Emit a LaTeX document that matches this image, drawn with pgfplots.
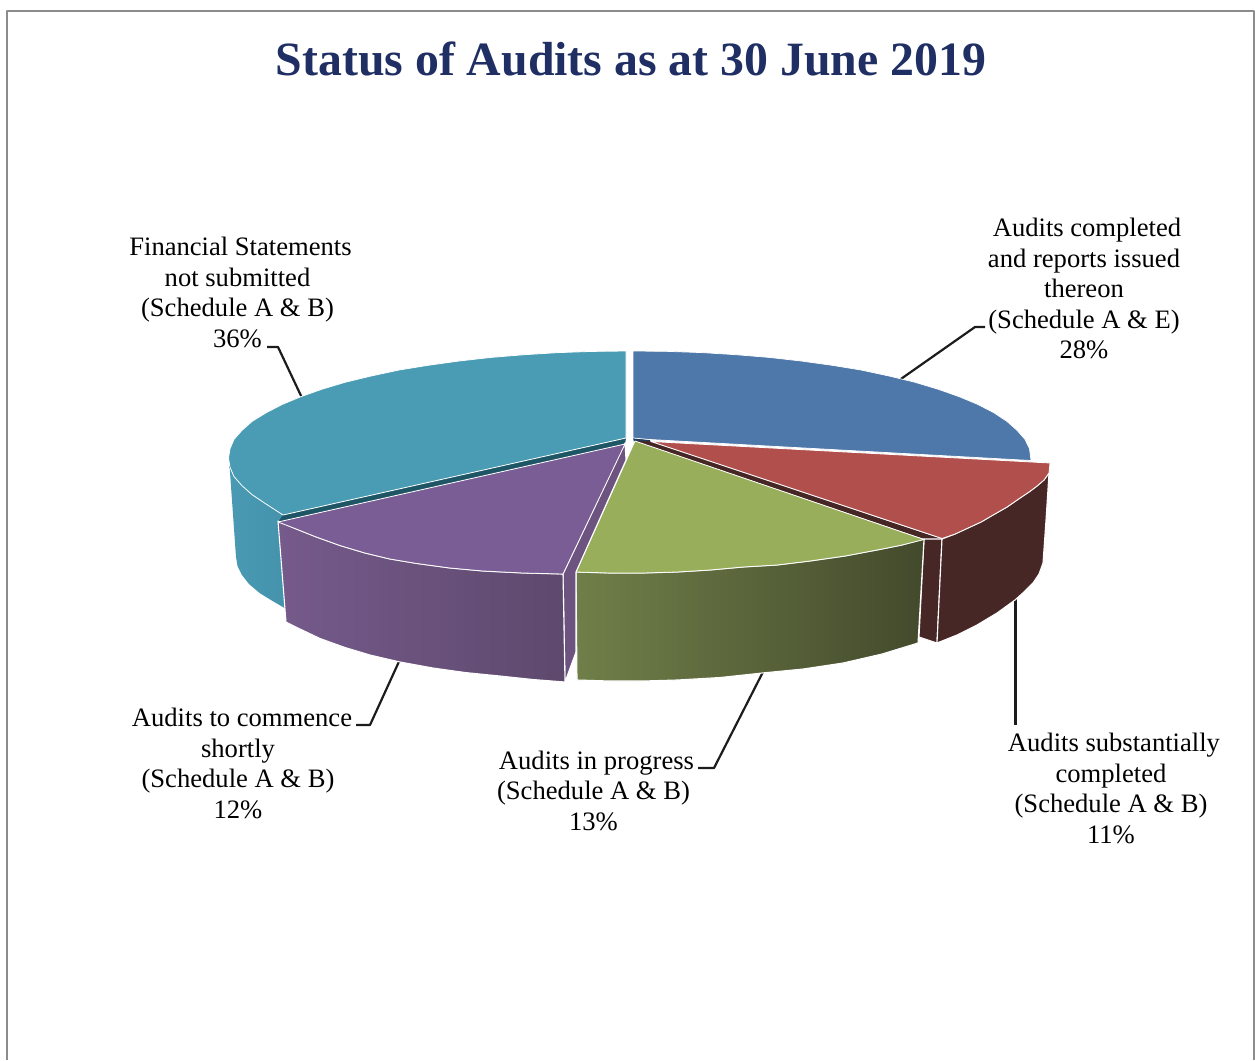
\documentclass[border=0pt]{standalone}
\usepackage{pgfplots}
\pgfplotsset{compat=1.18}
\usepackage{fontspec}
\setmainfont{Liberation Serif}
\definecolor{titleblue}{HTML}{1F2F63}
\definecolor{frame}{HTML}{8C8C8C}
\definecolor{leader}{HTML}{1C1C1C}
\definecolor{tealtop}{HTML}{4A9CB5}
\definecolor{tealwallL}{HTML}{4A9AB3}
\definecolor{tealwallR}{HTML}{4492AB}
\definecolor{tealdark}{HTML}{1F5666}
\definecolor{bluetop}{HTML}{4E77AA}
\definecolor{bluedark}{HTML}{1F3A5F}
\definecolor{redtop}{HTML}{B14F4D}
\definecolor{redwall}{HTML}{472725}
\definecolor{greentop}{HTML}{98AE5B}
\definecolor{greenwallL}{HTML}{707F49}
\definecolor{greenwallR}{HTML}{434A2C}
\definecolor{purpletop}{HTML}{7A5D94}
\definecolor{purplewallL}{HTML}{755A8B}
\definecolor{purplewallR}{HTML}{5E496D}
\definecolor{purpleinner}{HTML}{6C5380}
\begin{document}
\begin{tikzpicture}
\begin{axis}[
  scale only axis, width=1255pt, height=1060pt,
  xmin=0, xmax=1255, ymin=0, ymax=1060, y dir=reverse,
  hide axis, no markers,
  every axis plot/.append style={line join=round},
  slice/.style={draw=white, line width=1.1pt},
  thin slice/.style={draw=white, line width=0.8pt},
  lead/.style={draw=leader, line width=2.2pt},
]
% keeps the page the full size of the axis
\addplot[draw=none] coordinates {(0,0) (1255,1060)};
% outer frame of the chart area
\addplot[draw=frame, line width=2pt] coordinates {(7,1060) (7,11) (1254,11) (1254,1060)};

% leader lines run behind the pie
\addplot[lead] coordinates {(898,381) (975,327) (985,327)};
\addplot[lead] coordinates {(303,400) (278,347) (267,347)};
\addplot[lead, line width=3pt] coordinates {(1015,595) (1015,725)};
\addplot[lead] coordinates {(765,668) (714,768) (698,768)};
\addplot[lead] coordinates {(402,655) (370,725) (356,725)};

% Financial Statements not submitted, 36%
\addplot[draw=none, left color=tealwallL, right color=tealwallR] coordinates {
  (229,458) (236,557) (237.5,566) (242,575) (249,584) (259.6,593) (272.6,601) (288,610) (290,515)} --cycle;
\addplot[fill=tealdark, draw=none] coordinates {(626,438) (283,515) (278,522) (625,444)} --cycle;
\addplot[fill=tealtop, thin slice] coordinates {
  (626,351) (592,351.4) (558,352.6) (524,354.7) (491,357.4) (459,361) (428,365.3) (399,370)
  (371,376) (345,382.3) (322,389.2) (301,396.6) (282,404.5) (266,412.8) (252,421.4) (242,430.3)
  (234,439.4) (230,448.7) (228.5,458) (230,467.3) (234,476.6) (242,485.7) (252,494.6) (266,504)
  (283,515) (626,438)} --cycle;

% Audits completed and reports issued thereon, 28%
\addplot[fill=bluedark, draw=none] coordinates {(633,438) (650,440) (650,445) (634,442)} --cycle;
\addplot[fill=bluetop, draw=white, line width=0.7pt] coordinates {
  (633,351) (668,351.4) (702,352.6) (736,354.7) (769,357.4) (801,361) (832,365.3) (861,370)
  (889,376) (914,382) (938,389.2) (959,396.6) (978,404.5) (994,412.8) (1007,421.4) (1017,430.3)
  (1025,439.4) (1029.5,448.7) (1031,460.5) (650,439.5) (633,438)} --cycle;

% Audits substantially completed, 11%
\addplot[fill=redwall, draw=none] coordinates {(649,441) (942,539) (924,539) (635,441)} --cycle;
\addplot[fill=redwall, slice] coordinates {(924,539) (942,539) (937,643) (919,637)} --cycle;
\addplot[fill=redwall, slice] coordinates {
  (942,539) (955,534) (968,528) (981,522) (993,515) (1007,507) (1020,498) (1029,492) (1037,486)
  (1044,480) (1049,473) (1046,520) (1043,563) (1039,574) (1033,583) (1025,591) (1015,600)
  (997,613) (977,625) (957,635) (937,643)} --cycle;
\addplot[fill=redtop, thin slice] coordinates {
  (651,441.5) (1050,463) (1049,473) (1044,480) (1037,486) (1029,492) (1020,498) (1007,507) (993,515)
  (981,522) (968,528) (955,534) (942,538.5)} --cycle;

% Audits in progress, 13%
\addplot[left color=greenwallL, right color=greenwallR, slice] coordinates {
  (576,572) (610,573) (643,573) (677,572) (710,570) (743,567) (777,565) (810,561) (845,556)
  (877,550) (902,545) (924,539) (918,643) (882,654) (843,663) (803,669) (762,673) (720,677.5)
  (677,680) (643,681) (610,681) (577,680)} --cycle;
\addplot[fill=greentop, thin slice] coordinates {
  (635,441) (924,539.5) (902,545) (877,550) (845,556) (810,561) (777,565) (743,567) (710,570)
  (677,572) (643,573) (610,573) (576,572)} --cycle;

% Audits to commence shortly, 12%
\addplot[fill=purpleinner, slice] coordinates {(625,443) (563,574) (565,682) (576,652) (576,572) (626,460)} --cycle;
\addplot[left color=purplewallL, right color=purplewallR, slice] coordinates {
  (278,521) (295,528.5) (315,536.5) (340,545.5) (365,553) (390,559) (417,563.5) (450,568) (483,571)
  (523,573) (563,574) (565,682) (533,679.5) (500,676) (465,672.5) (433,668) (400,662) (370,655)
  (345,647.5) (320,638.5) (300,629) (286,622)} --cycle;
\addplot[fill=purpletop, thin slice] coordinates {
  (625,444) (563,574) (523,573) (483,571) (450,568) (417,563.5) (390,559) (365,553) (340,545.5)
  (315,536.5) (295,528.5) (278,522)} --cycle;

% title and slice labels
\node[anchor=base, text=titleblue, font=\fontsize{47.8}{52}\selectfont\bfseries] at (axis cs:631,75)
  {Status of Audits as at 30 June 2019};
\tikzset{lab/.style={align=center, inner sep=0pt, text=black, font=\fontsize{26.6}{30.5}\selectfont}}
\node[lab] at (axis cs:237.5,292.5) {\hspace*{6pt}Financial Statements\\not submitted\\(Schedule A \& B)\\36\%};
\node[lab] at (axis cs:1084,288.5) {\hspace*{6pt}Audits completed\\and reports issued\\thereon\\(Schedule A \& E)\\28\%};
\node[lab] at (axis cs:1111,788.5) {\hspace*{6pt}Audits substantially\\completed\\(Schedule A \& B)\\11\%};
\node[lab] at (axis cs:593.5,790.5) {\hspace*{6pt}Audits in progress\\(Schedule A \& B)\\13\%};
\node[lab] at (axis cs:238,763.5) {\hspace*{8pt}Audits to commence\\shortly\\(Schedule A \& B)\\12\%};
\end{axis}
\end{tikzpicture}
\end{document}
